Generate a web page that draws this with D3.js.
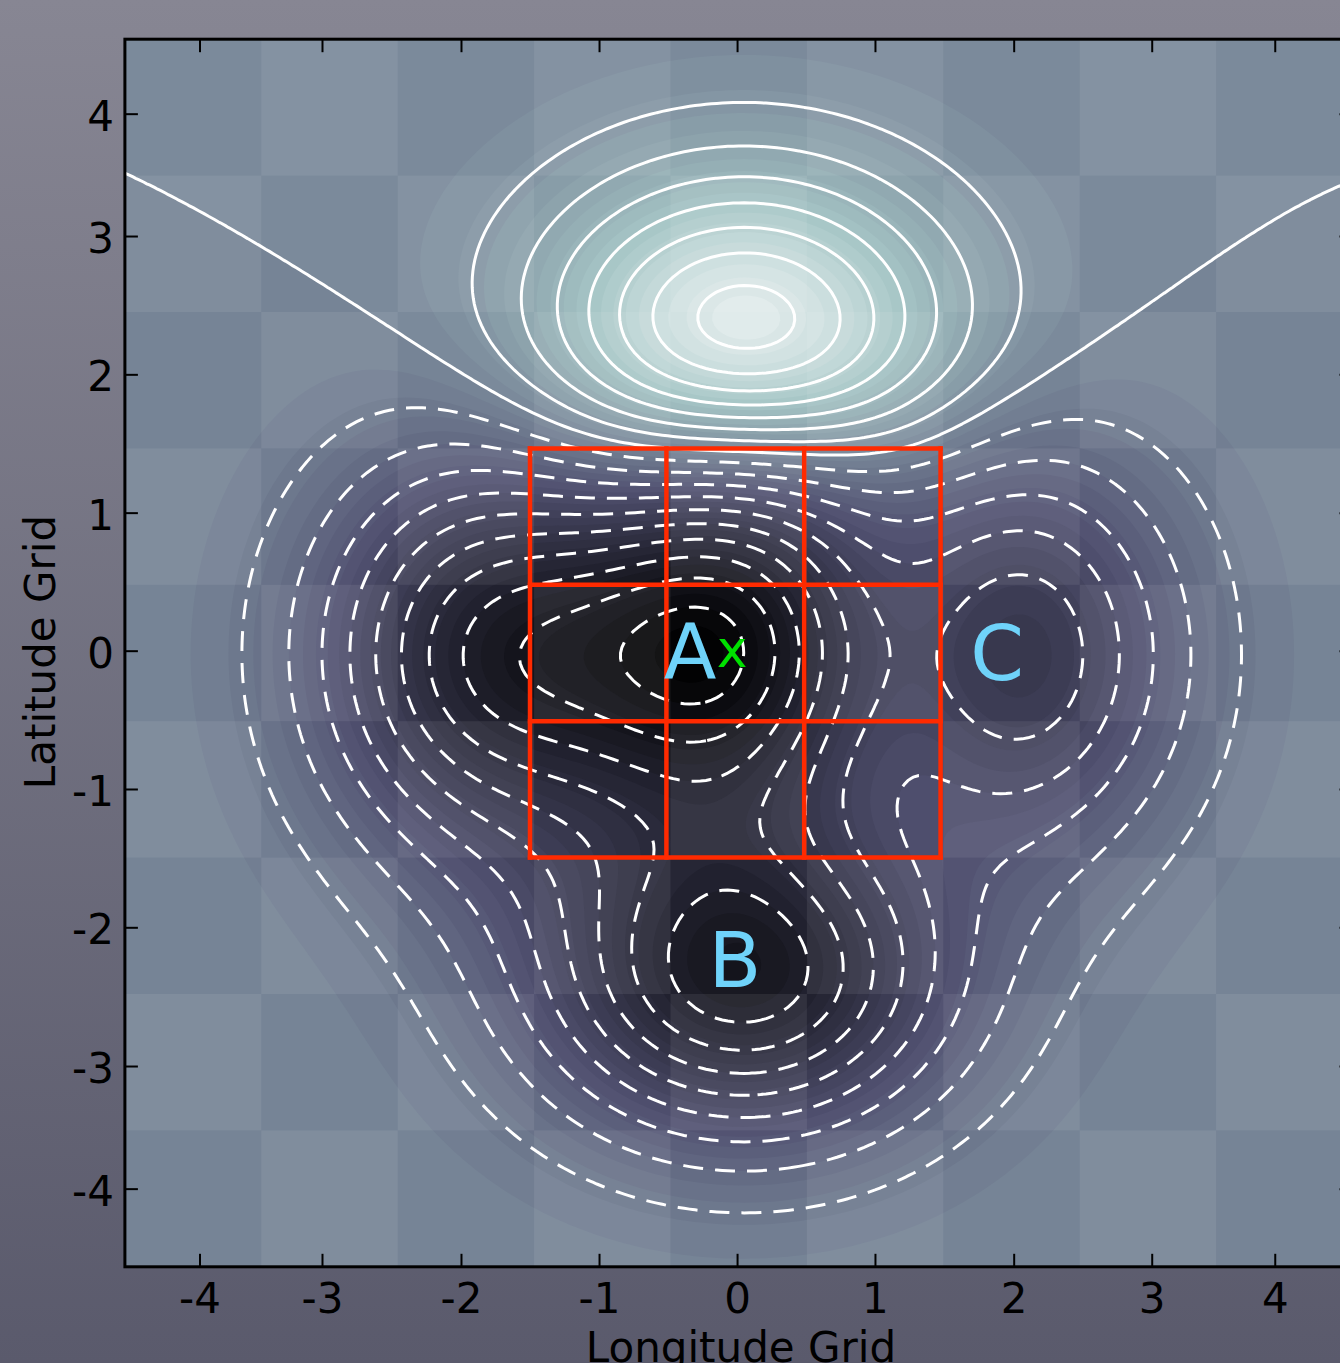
<!DOCTYPE html>
<html>
<head>
<meta charset="utf-8">
<script src="https://cdn.jsdelivr.net/npm/d3@7"></script>
<style>
body { margin: 0; }
svg { display: block; }
</style>
</head>
<body>
<script>
var W = 1340, H = 1363;

// tick positions / labels
var xTickPos = [-3.953, -3.055, -2.036, -1.024, -0.012, 0.999, 2.016, 3.028, 3.930];
var yTickPos = [3.954, 3.057, 2.043, 1.029, 0.017, -0.997, -2.011, -3.028, -3.927];
var xTickLabels = ["-4", "-3", "-2", "-1", "0", "1", "2", "3", "4"];
var yTickLabels = ["4", "3", "2", "1", "0", "-1", "-2", "-3", "-4"];

// contour levels (solid >= 0, dashed < 0)
var posLevels = [0, 1, 2, 3, 4, 5, 6, 7];
var negLevels = [-10, -9, -8, -7, -6, -5, -4, -3, -2, -1];

// red 3x3 box
var gridX = [-1.53, -0.53, 0.48, 1.48];
var gridY = [1.5, 0.5, -0.5, -1.5];

// labels
var siteNames = ["A", "B", "C"];
var siteX = [-0.357, -0.027, 1.894];
var siteY = [-0.183, -2.449, -0.198];
var markX = -0.049, markY = -0.103;

// surface = sum of gaussian bumps, fitted to the contour crossings
// (hill, well A, A left lobe, well B, well C inner, ridge, well C outer)
var bumpAmp = [8.183, -8.917, -7.878, -8.450, -2.742, -2.129, -3.278];
var bumpX   = [0.034, -0.055, -1.781, 0.038, 1.918, 0.406, 2.449];
var bumpY   = [2.284, 0.074, -0.001, -2.385, 0.001, 1.281, -0.011];
var bumpSx  = [1.077, 0.788, 0.916, 1.078, 0.615, 0.945, 0.788];
var bumpSy  = [0.855, 0.944, 1.065, 0.832, 1.025, 0.531, 1.072];

function field(x, y) {
  var s = 0;
  for (var k = 0; k < bumpAmp.length; k++) {
    var dx = x - bumpX[k], dy = y - bumpY[k];
    s += bumpAmp[k] * Math.exp(-dx*dx/(2*bumpSx[k]*bumpSx[k]) - dy*dy/(2*bumpSy[k]*bumpSy[k]));
  }
  return s;
}

var xs = d3.scaleLinear().domain([-4.5, 4.5]).range([124.9, 1352.5]);
var ys = d3.scaleLinear().domain([-4.5, 4.5]).range([1266.8, 39.2]);

// matplotlib "bone"
function bone(t) {
  t = Math.max(0, Math.min(1, t));
  var r = t < 0.746032 ? t/0.746032*0.652778 : 0.652778 + (t-0.746032)/0.253968*0.347222;
  var g = t < 0.365079 ? t/0.365079*0.319444 : (t < 0.746032 ? 0.319444 + (t-0.365079)/0.380953*0.458334 : 0.777778 + (t-0.746032)/0.253968*0.222222);
  var b = t < 0.365079 ? t/0.365079*0.444444 : 0.444444 + (t-0.365079)/0.634921*0.555556;
  return d3.rgb(r*255, g*255, b*255).toString();
}
var vmin = -10.8, vmax = 9.2;

var svg = d3.select("body").append("svg").attr("width", W).attr("height", H);
var defs = svg.append("defs");
var grad = defs.append("linearGradient").attr("id", "bg").attr("x1", 0).attr("y1", 0).attr("x2", 0).attr("y2", 1);
grad.append("stop").attr("offset", "0%").attr("stop-color", "#878693");
grad.append("stop").attr("offset", "100%").attr("stop-color", "#5a5a6c");
svg.append("rect").attr("width", W).attr("height", H).attr("fill", "url(#bg)");

defs.append("clipPath").attr("id", "plotclip").append("rect")
  .attr("x", xs(-4.5)).attr("y", ys(4.5)).attr("width", xs(4.5) - xs(-4.5)).attr("height", ys(-4.5) - ys(4.5));

// sample the surface on a grid a bit larger than the frame
var g0 = -5, gstep = 0.04, gn = 251;
var values = new Array(gn * gn);
for (var j = 0; j < gn; j++) for (var i = 0; i < gn; i++) values[j*gn + i] = field(g0 + i*gstep, -g0 - j*gstep);
var proj = d3.geoTransform({ point: function(gx, gy) {
  this.stream.point(xs(g0 + (gx - 0.5)*gstep), ys(-g0 - (gy - 0.5)*gstep));
}});
var path = d3.geoPath(proj);

var plot = svg.append("g").attr("clip-path", "url(#plotclip)");
plot.append("rect").attr("x", xs(-4.5)).attr("y", ys(4.5)).attr("width", xs(4.5) - xs(-4.5)).attr("height", ys(-4.5) - ys(4.5)).attr("fill", bone(0));

// filled bands
var fillStep = 0.4;
var fillT = d3.range(vmin, vmax, fillStep);
var fills = d3.contours().size([gn, gn]).thresholds(fillT)(values);
plot.selectAll("path.band").data(fills).join("path")
  .attr("class", "band")
  .attr("d", path)
  .attr("fill-rule", "evenodd")
  .attr("fill", function(d) { return bone((d.value + fillStep/2 - vmin) / (vmax - vmin)); });

// checkerboard shading
var cells = [];
d3.range(-4, 5).forEach(function(cx) { d3.range(-4, 5).forEach(function(cy) { if ((cx + cy) % 2 !== 0) cells.push([cx, cy]); }); });
plot.selectAll("rect.cell").data(cells).join("rect")
  .attr("class", "cell")
  .attr("x", function(d) { return xs(d[0] - 0.5); })
  .attr("y", function(d) { return ys(d[1] + 0.5); })
  .attr("width", xs(1) - xs(0))
  .attr("height", ys(0) - ys(1))
  .attr("fill", "#ffffff").attr("fill-opacity", 0.075);

// contour lines
var lines = d3.contours().size([gn, gn]).thresholds(negLevels.concat(posLevels))(values);
plot.selectAll("path.line").data(lines).join("path")
  .attr("class", "line")
  .attr("d", path)
  .attr("fill", "none")
  .attr("stroke", "#ffffff")
  .attr("stroke-width", 3)
  .attr("stroke-dasharray", function(d) { return d.value < 0 ? "20,12" : null; });

// red box
var red = svg.append("g").attr("stroke", "#ff2a00").attr("stroke-width", 4.5).attr("stroke-linecap", "square");
red.selectAll("line.v").data(gridX).join("line").attr("class", "v")
  .attr("x1", function(d) { return xs(d); }).attr("x2", function(d) { return xs(d); })
  .attr("y1", ys(gridY[0])).attr("y2", ys(gridY[gridY.length-1]));
red.selectAll("line.h").data(gridY).join("line").attr("class", "h")
  .attr("y1", function(d) { return ys(d); }).attr("y2", function(d) { return ys(d); })
  .attr("x1", xs(gridX[0])).attr("x2", xs(gridX[gridX.length-1]));

// A B C and the x mark
svg.selectAll("text.site").data(siteNames).join("text")
  .attr("class", "site")
  .attr("x", function(d, i) { return xs(siteX[i]); })
  .attr("y", function(d, i) { return ys(siteY[i]); })
  .attr("text-anchor", "middle")
  .attr("font-family", "DejaVu Sans")
  .attr("font-size", 77)
  .attr("fill", "#6fd3fa")
  .text(function(d) { return d; });
svg.append("text").attr("x", xs(markX)).attr("y", ys(markY))
  .attr("text-anchor", "middle").attr("font-family", "DejaVu Sans").attr("font-size", 52)
  .attr("fill", "#00e000").text("x");

// axes
var font = "DejaVu Sans";
var axB = svg.append("g").attr("transform", "translate(0," + ys(-4.5) + ")")
  .call(d3.axisBottom(xs).tickValues(xTickPos).tickFormat(function(d, i) { return xTickLabels[i]; }).tickSizeInner(-13).tickSizeOuter(0).tickPadding(16));
var axT = svg.append("g").attr("transform", "translate(0," + ys(4.5) + ")")
  .call(d3.axisTop(xs).tickValues(xTickPos).tickFormat("").tickSizeInner(-13).tickSizeOuter(0));
var axL = svg.append("g").attr("transform", "translate(" + xs(-4.5) + ",0)")
  .call(d3.axisLeft(ys).tickValues(yTickPos).tickFormat(function(d, i) { return yTickLabels[i]; }).tickSizeInner(-13).tickSizeOuter(0).tickPadding(11));
var axR = svg.append("g").attr("transform", "translate(" + xs(4.5) + ",0)")
  .call(d3.axisRight(ys).tickValues(yTickPos).tickFormat("").tickSizeInner(-13).tickSizeOuter(0));
[axB, axT, axL, axR].forEach(function(a) {
  a.select(".domain").remove();
  a.selectAll(".tick line").attr("stroke", "#000").attr("stroke-width", 2);
  a.selectAll(".tick text").attr("font-family", font).attr("font-size", 42).attr("fill", "#000");
});
axL.selectAll(".tick text").attr("dy", "0.39em");

svg.append("rect").attr("x", xs(-4.5)).attr("y", ys(4.5)).attr("width", xs(4.5) - xs(-4.5)).attr("height", ys(-4.5) - ys(4.5))
  .attr("fill", "none").attr("stroke", "#000").attr("stroke-width", 3);

svg.append("text").attr("x", 741).attr("y", 1362).attr("text-anchor", "middle")
  .attr("font-family", font).attr("font-size", 42).attr("fill", "#000").text("Longitude Grid");
svg.append("text").attr("transform", "translate(55,652) rotate(-90)").attr("text-anchor", "middle")
  .attr("font-family", font).attr("font-size", 42).attr("fill", "#000").text("Latitude Grid");
</script>
</body>
</html>
